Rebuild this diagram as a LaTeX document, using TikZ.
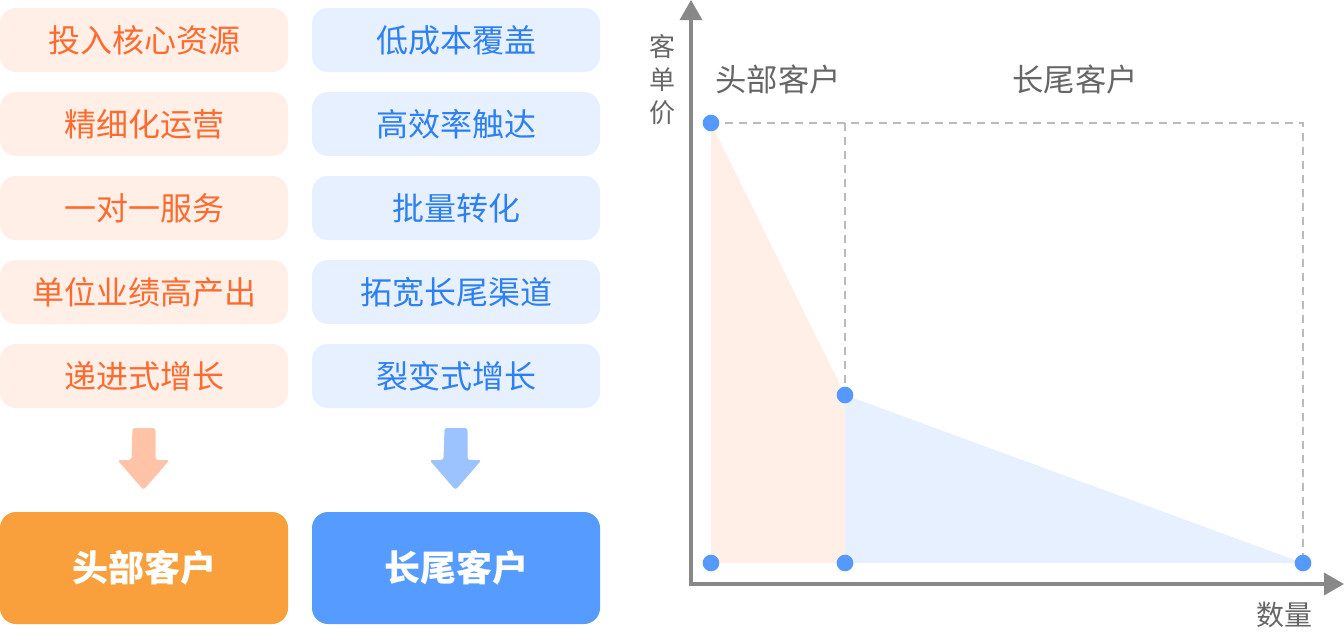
\documentclass[tikz,border=0pt]{standalone}
\usepackage{fontspec}
\setmainfont{Noto Sans CJK SC}
\usepackage{tikz}
\usetikzlibrary{arrows.meta}
\definecolor{headtext}{HTML}{FF6A2E}
\definecolor{headfill}{HTML}{FFEFE7}
\definecolor{tailtext}{HTML}{2E80F0}
\definecolor{tailfill}{HTML}{E6F0FF}
\definecolor{headbox}{HTML}{F9A03C}
\definecolor{tailbox}{HTML}{569BFF}
\definecolor{headarrow}{HTML}{FFC3A8}
\definecolor{tailarrow}{HTML}{9DC3FF}
\definecolor{axisgray}{HTML}{888888}
\definecolor{labelgray}{HTML}{666666}
\definecolor{dashgray}{HTML}{BBBBBB}
\definecolor{dotblue}{HTML}{5599FF}

\begin{document}
\begin{tikzpicture}[x=0.75pt,y=-0.75pt,
  item/.style={rounded corners=12pt,minimum width=216pt,minimum height=48pt,inner sep=0pt,font=\fontsize{24}{24}\selectfont},
  headitem/.style={item,fill=headfill,text=headtext},
  tailitem/.style={item,fill=tailfill,text=tailtext},
  result/.style={rounded corners=12pt,minimum width=216pt,minimum height=84pt,inner sep=0pt,text=white,font=\fontsize{27}{27}\selectfont\bfseries},
  dot/.style={circle,fill=dotblue,minimum size=12.5pt,inner sep=0pt},
  guide/.style={dashgray,line width=1.5pt,dash pattern=on 6pt off 4.5pt},
  axis/.style={axisgray,line width=2.6pt,-{Triangle[width=16.5pt,length=15pt]}},
  chartlabel/.style={text=labelgray,font=\fontsize{23.5}{23.5}\selectfont}]
\useasboundingbox (0,0) rectangle (1344,632);

% head customers
\node[headitem] (h1) at (144,40) {投入核心资源};
\node[headitem] (h2) at (144,124) {精细化运营};
\node[headitem] (h3) at (144,208) {一对一服务};
\node[headitem] (h4) at (144,292) {单位业绩高产出};
\node[headitem] (h5) at (144,376) {递进式增长};
\coordinate (harrow) at (144,428);
\fill[headarrow,rounded corners=2pt] (harrow) ++(-11.5,0) -- ++(23,0) -- ++(0,32) -- ++(14,0) -- ++(-26,30) -- ++(-26,-30) -- ++(14,0) -- cycle;
\node[result,fill=headbox] (head) at (144,568) {头部客户};

% long tail customers
\node[tailitem] (t1) at (456,40) {低成本覆盖};
\node[tailitem] (t2) at (456,124) {高效率触达};
\node[tailitem] (t3) at (456,208) {批量转化};
\node[tailitem] (t4) at (456,292) {拓宽长尾渠道};
\node[tailitem] (t5) at (456,376) {裂变式增长};
\coordinate (tarrow) at (456,428);
\fill[tailarrow,rounded corners=2pt] (tarrow) ++(-11.5,0) -- ++(23,0) -- ++(0,32) -- ++(14,0) -- ++(-26,30) -- ++(-26,-30) -- ++(14,0) -- cycle;
\node[result,fill=tailbox] (tail) at (456,568) {长尾客户};

% chart
\coordinate (ptop) at (711,123);
\coordinate (pknee) at (845,395);
\coordinate (pbase) at (711,563);
\coordinate (pmid) at (845,563);
\coordinate (pend) at (1303,563);
\coordinate (kneetop) at (845,123);
\coordinate (corner) at (1303,123);
\coordinate (origin) at (691,584);
\coordinate (ytip) at (691,0);
\coordinate (xtip) at (1344,584);
\fill[headfill] (ptop) -- (pknee) -- (pmid) -- (pbase) -- cycle;
\fill[tailfill] (pknee) -- (pend) -- (pmid) -- cycle;
\draw[guide] (ptop) -- (corner) -- (pend);
\draw[guide] (kneetop) -- (pknee);
\draw[axis] ([yshift=-1.3pt]origin) -- (ytip);
\draw[axis] ([xshift=-1.3pt]origin) -- (xtip);
\node[dot] (top) at (ptop) {};
\node[dot] (knee) at (pknee) {};
\node[dot] (base) at (pbase) {};
\node[dot] (mid) at (pmid) {};
\node[dot] (end) at (pend) {};
\node[chartlabel] (headlabel) at (778,80) {头部客户};
\node[chartlabel] (taillabel) at (1075,80) {长尾客户};
\node[text=labelgray,align=center,font=\fontsize{19.5}{24.75}\selectfont] (price) at (662,80) {客\\单\\价};
\node[text=labelgray,font=\fontsize{21}{21}\selectfont] (amount) at (1284,615) {数量};
\end{tikzpicture}
\end{document}
